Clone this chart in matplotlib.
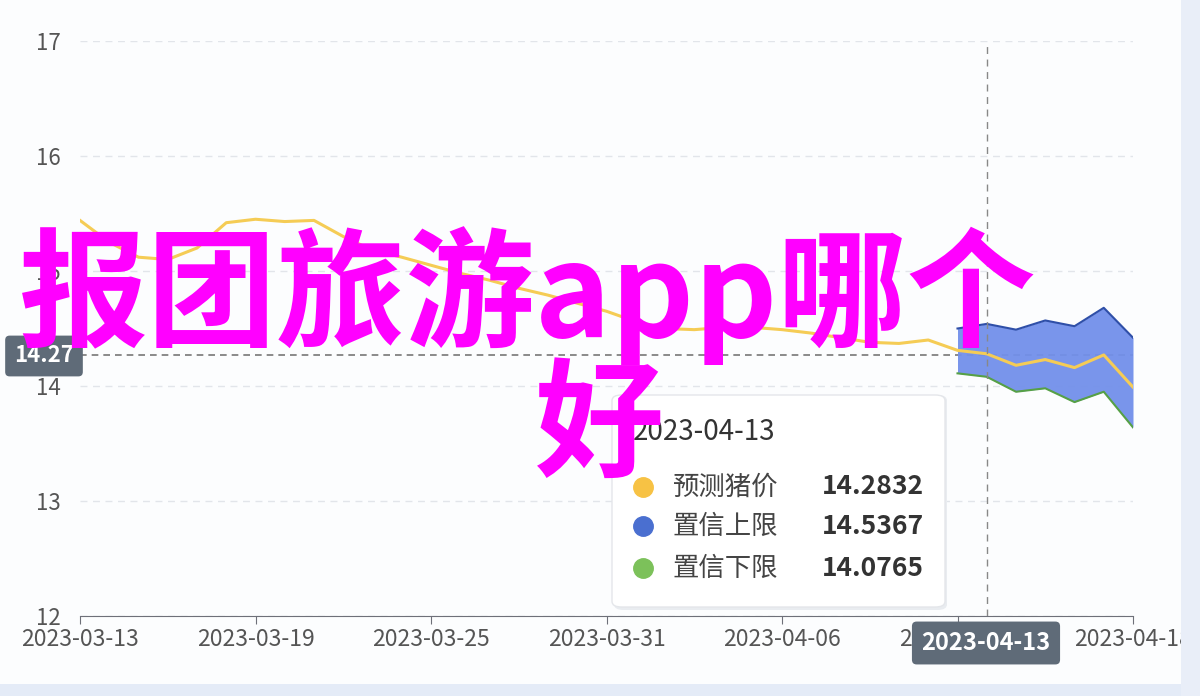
import pandas as pd
import matplotlib
matplotlib.use("Agg")
import matplotlib.pyplot as plt
import matplotlib.dates as mdates
from matplotlib.patches import FancyBboxPatch, Rectangle
from matplotlib.lines import Line2D

plt.rcParams['font.family'] = ['Noto Sans CJK SC', 'DejaVu Sans']

# data
dates = pd.date_range("2023-03-13", "2023-04-18", freq="D")
pred_price = [15.44, 15.25, 15.12, 15.10, 15.20, 15.42, 15.45, 15.43, 15.44, 15.30,
              15.18, 15.12, 15.05, 14.98, 14.92, 14.85, 14.79, 14.72, 14.65, 14.56,
              14.50, 14.49, 14.51, 14.51, 14.49, 14.46, 14.42, 14.38, 14.37, 14.40,
              14.31, 14.28, 14.18, 14.23, 14.16, 14.27, 13.99]
band_start = 30
upper = [14.50, 14.54, 14.49, 14.57, 14.52, 14.68, 14.42]
lower = [14.11, 14.08, 13.95, 13.98, 13.86, 13.95, 13.64]

hover_date = "2023-04-13"
hover_y = 14.27
hover_names = ["预测猪价", "置信上限", "置信下限"]
hover_values = ["14.2832", "14.5367", "14.0765"]
hover_colors = ["#f7c244", "#4a6fd0", "#7cc15a"]
watermark = ["报团旅游app哪个", "好"]

W, H = 1200, 696


def fx(px):
    return px / W


def fy(py):
    return 1 - py / H


fig = plt.figure(figsize=(12, 6.96), dpi=100, facecolor="#fcfdfe")
ax = fig.add_axes([fx(80), fy(616), fx(1133) - fx(80), fy(41) - fy(616)])
ax.set_facecolor("#fcfdfe")

band_dates = dates[band_start:]
ax.axhline(hover_y, color="#777777", lw=1.2, ls=(0, (4, 3)), zorder=2)
ax.fill_between(band_dates, lower, upper, color="#7290ea", alpha=0.95, lw=0, zorder=3)
ax.plot(band_dates, upper, color="#2f4fa8", lw=1.5, zorder=4)
ax.plot(band_dates, lower, color="#56a046", lw=1.5, zorder=4)
ax.plot(dates, pred_price, color="#f5cc55", lw=2.2, zorder=5)
ax.axvline(pd.Timestamp(hover_date), color="#888888", lw=1, ls=(0, (5, 4)), zorder=6)

ax.set_xlim(dates[0], dates[-1])
ax.set_ylim(12, 17)
ax.set_yticks(range(12, 18))
ax.set_xticks(dates[::6])
ax.xaxis.set_major_formatter(mdates.DateFormatter("%Y-%m-%d"))
ax.grid(axis="y", color="#e2e5ea", ls=(0, (5, 4)), lw=1)
for s in ["left", "top", "right"]:
    ax.spines[s].set_visible(False)
ax.spines["bottom"].set_color("#6e7079")
ax.tick_params(axis="y", length=0, labelsize=16, labelcolor="#555555", pad=14)
ax.tick_params(axis="x", length=6, color="#6e7079", labelsize=16.5, labelcolor="#555555", pad=3)

# tooltip
fig.add_artist(FancyBboxPatch((fx(614), fy(610)), fx(947) - fx(614), fy(395) - fy(610),
                              boxstyle="round,pad=0,rounding_size=0.008",
                              transform=fig.transFigure, fc="#e9ecf0", ec="none", zorder=7))
fig.add_artist(FancyBboxPatch((fx(612), fy(607)), fx(945) - fx(612), fy(395) - fy(607),
                              boxstyle="round,pad=0,rounding_size=0.008",
                              transform=fig.transFigure, fc="white", ec="#e4e6ea", lw=1, zorder=8))
fig.text(fx(633), fy(432), hover_date, fontsize=20, color="#333333", weight="medium",
         ha="left", va="center", zorder=9)
for i, (name, val, c) in enumerate(zip(hover_names, hover_values, hover_colors)):
    yy = [487, 526, 568][i]
    fig.add_artist(Line2D([fx(643)], [fy(yy)], marker="o", markersize=14, color=c,
                          transform=fig.transFigure, zorder=9))
    fig.text(fx(673), fy(yy), name, fontsize=19, color="#444444", ha="left", va="center", zorder=9)
    fig.text(fx(924), fy(yy), val, fontsize=19, color="#333333", weight="bold",
             ha="right", va="center", zorder=9)

# axis pointer labels
fig.text(fx(44), fy(356), f"{hover_y:.2f}", fontsize=16, color="white", weight="bold",
         ha="center", va="center", zorder=9,
         bbox=dict(boxstyle="round,pad=0.4,rounding_size=0.2", fc="#5f6b78", ec="none"))
fig.text(fx(986), fy(643), hover_date, fontsize=17, color="white", weight="bold",
         ha="center", va="center", zorder=9,
         bbox=dict(boxstyle="round,pad=0.4,rounding_size=0.2", fc="#5f6b78", ec="none"))

# page border
fig.add_artist(Rectangle((0, 0), 1, fy(684), transform=fig.transFigure,
                         fc="#e4ebf7", ec="none", zorder=10))
fig.add_artist(Rectangle((fx(1181), 0), 1 - fx(1181), 1, transform=fig.transFigure,
                         fc="#e9eef8", ec="none", zorder=10))

# watermark
fig.text(fx(528), fy(296), watermark[0], fontsize=93, color="#ff00ff", weight="bold",
         ha="center", va="center", zorder=11)
fig.text(fx(600), fy(430), watermark[1], fontsize=93, color="#ff00ff", weight="bold",
         ha="center", va="center", zorder=11)

fig.savefig("out.png", dpi=100, facecolor=fig.get_facecolor())
